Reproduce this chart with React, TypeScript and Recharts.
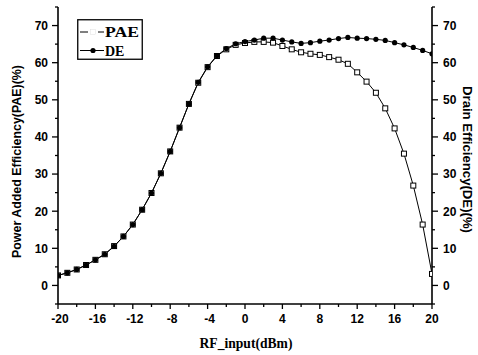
import React from 'react';
import { LineChart, Line, XAxis, YAxis } from 'recharts';

const RF_INPUT = [-20, -19, -18, -17, -16, -15, -14, -13, -12, -11, -10, -9, -8, -7, -6, -5, -4, -3, -2, -1, 0, 1, 2, 3, 4, 5, 6, 7, 8, 9, 10, 11, 12, 13, 14, 15, 16, 17, 18, 19, 20];
const PAE = [2.7, 3.4, 4.3, 5.5, 6.9, 8.4, 10.6, 13.2, 16.4, 20.4, 24.9, 30.2, 36.1, 42.5, 48.9, 54.6, 58.8, 61.8, 63.6, 64.8, 65.3, 65.6, 65.6, 65.4, 64.5, 63.6, 62.8, 62.4, 62.1, 61.5, 60.8, 59.7, 57.4, 54.9, 51.9, 47.7, 42.3, 35.5, 26.9, 16.4, 3.1];
const DE = [2.7, 3.4, 4.3, 5.5, 6.9, 8.4, 10.5, 13.2, 16.4, 20.4, 24.9, 30.2, 36.1, 42.5, 48.9, 54.7, 58.9, 61.9, 63.8, 65.1, 65.7, 66.1, 66.6, 66.6, 66.1, 65.6, 65.2, 65.4, 65.8, 66.1, 66.5, 66.8, 66.6, 66.5, 66.3, 66.0, 65.4, 64.8, 64.1, 63.3, 62.4];
const X_TICKS = [-20, -18, -16, -14, -12, -10, -8, -6, -4, -2, 0, 2, 4, 6, 8, 10, 12, 14, 16, 18, 20];
const Y_TICKS = [-5, 0, 5, 10, 15, 20, 25, 30, 35, 40, 45, 50, 55, 60, 65, 70, 75];
const X_DOMAIN: [number, number] = [-20, 20];
const Y_DOMAIN: [number, number] = [-5, 75];
const SERIES_NAMES = ['PAE', 'DE'];
const TITLES = {
  x: 'RF_input(dBm)',
  yLeft: 'Power Added Efficiency(PAE)(%)',
  yRight: 'Drain Efficiency(DE)(%)',
};

const data = RF_INPUT.map((x, i) => ({ x, pae: PAE[i], de: DE[i] }));

const SANS = "'Liberation Sans', Arial, sans-serif";
const SERIF = "'Liberation Serif', 'Times New Roman', serif";
const INK = '#000';

const BottomTick = (p: any) => {
  const { x, y, payload } = p;
  const v = payload.value;
  const major = v % 4 === 0;
  return (
    <g>
      <line x1={x} y1={y} x2={x} y2={y + (major ? 5 : 3)} stroke={INK} strokeWidth={1.3} />
      {major && (
        <text x={x + (v < 0 ? 2 : 0)} y={y + 19} textAnchor="middle" fontFamily={SANS} fontWeight="bold" fontSize={12} fill={INK}>
          {v}
        </text>
      )}
    </g>
  );
};

const TopTick = (p: any) => {
  const { x, y, payload } = p;
  const major = payload.value % 4 === 0;
  return <line x1={x} y1={y} x2={x} y2={y + (major ? 5 : 3)} stroke={INK} strokeWidth={1.3} />;
};

const LeftTick = (p: any) => {
  const { x, y, payload } = p;
  const v = payload.value;
  const major = v % 10 === 0;
  return (
    <g>
      <line x1={x - (major ? 6 : 3)} y1={y} x2={x} y2={y} stroke={INK} strokeWidth={1.3} />
      {major && (
        <text x={x - 10} y={y} dy="0.36em" textAnchor="end" fontFamily={SANS} fontWeight="bold" fontSize={12} fill={INK}>
          {v}
        </text>
      )}
    </g>
  );
};

const RightTick = (p: any) => {
  const { x, y, payload } = p;
  const v = payload.value;
  const major = v % 10 === 0;
  return (
    <g>
      <line x1={x} y1={y} x2={x + (major ? 6 : 3)} y2={y} stroke={INK} strokeWidth={1.3} />
      {major && (
        <text x={x + 11} y={y} dy="0.36em" textAnchor="start" fontFamily={SANS} fontWeight="bold" fontSize={12} fill={INK}>
          {v}
        </text>
      )}
    </g>
  );
};

const SquareDot = (p: any) => {
  const { cx, cy, index } = p;
  if (cx == null || cy == null) return <g key={index} />;
  return <rect key={index} x={cx - 2.5} y={cy - 2.5} width={5} height={5} fill="#fff" stroke={INK} strokeWidth={1} />;
};

const leftTitle = () => (
  <text x={17} y={258} textAnchor="start" dominantBaseline="central" transform="rotate(-90 17 258)"
    fontFamily={SANS} fontWeight="bold" fontSize={12} fill={INK} textLength={193} lengthAdjust="spacingAndGlyphs">
    {TITLES.yLeft}
  </text>
);

const rightTitle = () => (
  <text x={467} y={86} textAnchor="start" dominantBaseline="central" transform="rotate(90 467 86)"
    fontFamily={SANS} fontWeight="bold" fontSize={12.5} fill={INK} textLength={147} lengthAdjust="spacingAndGlyphs">
    {TITLES.yRight}
  </text>
);

const bottomTitle = () => (
  <text x={246} y={348} textAnchor="middle" fontFamily={SERIF} fontWeight="bold" fontSize={13.6} fill={INK}>
    {TITLES.x}
  </text>
);

const LegendBox = () => (
  <svg width={66} height={41} style={{ display: 'block' }}>
    <rect x={0.75} y={0.75} width={64.5} height={39.5} fill="#fff" stroke={INK} strokeWidth={1.3} />
    <line x1={3} y1={13} x2={11} y2={13} stroke={INK} strokeWidth={1} />
    <rect x={13.5} y={10.5} width={5} height={5} fill="#fff" stroke="#d8d8d8" strokeWidth={0.4} />
    <line x1={21} y1={13} x2={27} y2={13} stroke={INK} strokeWidth={1} />
    <text x={28} y={18} fontFamily={SERIF} fontWeight="bold" fontSize={14} fill={INK} textLength={34} lengthAdjust="spacingAndGlyphs">
      {SERIES_NAMES[0]}
    </text>
    <line x1={3} y1={31.5} x2={27} y2={31.5} stroke={INK} strokeWidth={1} />
    <circle cx={16} cy={31.5} r={2.6} fill={INK} />
    <text x={28} y={37} fontFamily={SERIF} fontWeight="bold" fontSize={14} fill={INK}>
      {SERIES_NAMES[1]}
    </text>
  </svg>
);

export default function App() {
  return (
    <div style={{ position: 'absolute', left: 0, top: 0, width: 478, height: 355, background: '#fff' }}>
      <LineChart width={478} height={355} data={data} margin={{ top: 7, right: 0, bottom: 0, left: 0 }}>
        <XAxis xAxisId="b" dataKey="x" type="number" domain={X_DOMAIN} ticks={X_TICKS} interval={0}
          orientation="bottom" height={51} tickSize={0} tickMargin={0} tickLine={false}
          axisLine={{ stroke: INK, strokeWidth: 1.6 }} tick={BottomTick} label={bottomTitle} allowDataOverflow />
        <XAxis xAxisId="t" dataKey="x" type="number" domain={X_DOMAIN} ticks={X_TICKS} interval={0}
          orientation="top" height={0} tickSize={0} tickMargin={0} tickLine={false}
          axisLine={{ stroke: INK, strokeWidth: 1.6 }} tick={TopTick} allowDataOverflow />
        <YAxis yAxisId="l" type="number" domain={Y_DOMAIN} ticks={Y_TICKS} interval={0} orientation="left"
          width={58} tickSize={0} tickMargin={0} tickLine={false} axisLine={{ stroke: INK, strokeWidth: 1.6 }}
          tick={LeftTick} label={leftTitle} allowDataOverflow />
        <YAxis yAxisId="r" type="number" domain={Y_DOMAIN} ticks={Y_TICKS} interval={0} orientation="right"
          width={46} tickSize={0} tickMargin={0} tickLine={false} axisLine={{ stroke: INK, strokeWidth: 1.6 }}
          tick={RightTick} label={rightTitle} allowDataOverflow />
        <Line xAxisId="b" yAxisId="l" type="linear" dataKey="pae" name={SERIES_NAMES[0]} stroke={INK} strokeWidth={1}
          dot={SquareDot} activeDot={false} isAnimationActive={false} />
        <Line xAxisId="b" yAxisId="l" type="linear" dataKey="de" name={SERIES_NAMES[1]} stroke={INK} strokeWidth={1}
          dot={{ r: 2.6, fill: INK, stroke: INK, strokeWidth: 0 }} activeDot={false} isAnimationActive={false} />
      </LineChart>
      <div style={{ position: 'absolute', left: 77, top: 19 }}>
        <LegendBox />
      </div>
    </div>
  );
}
